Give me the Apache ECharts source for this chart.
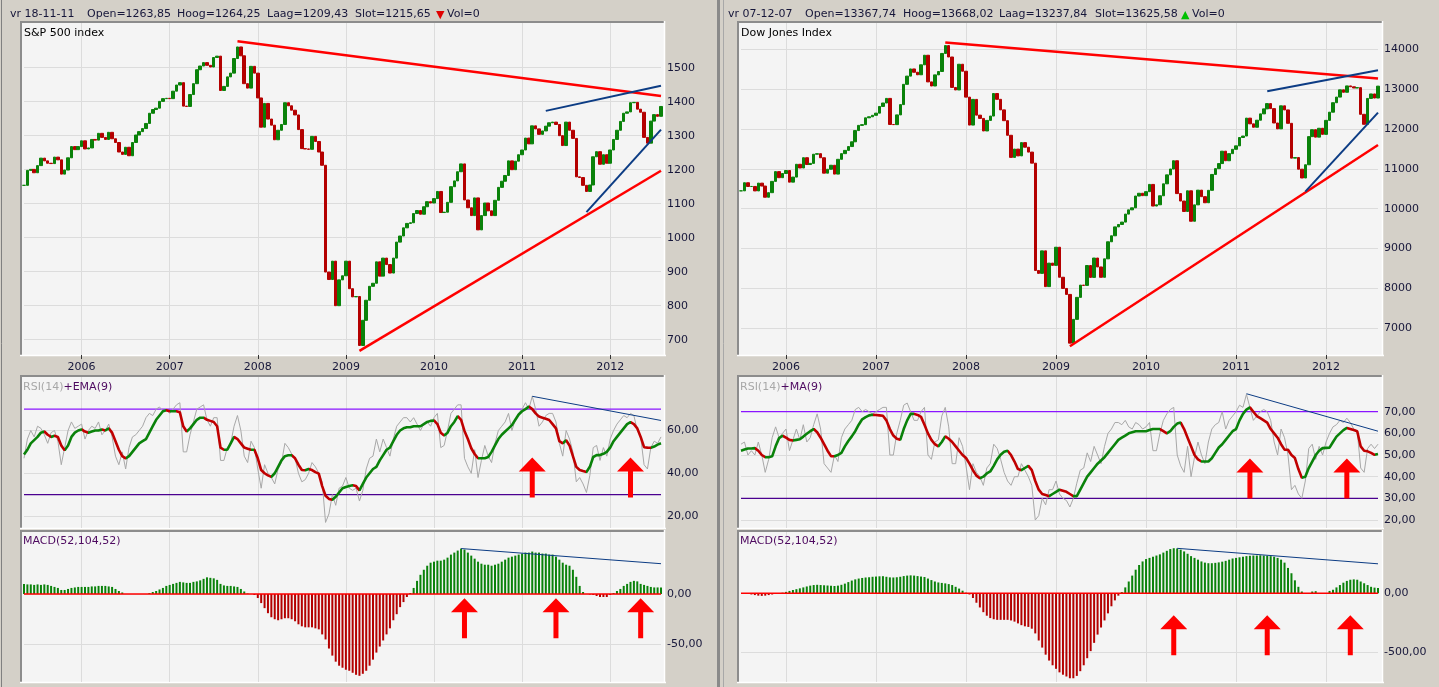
<!DOCTYPE html>
<html>
<head>
<meta charset="utf-8">
<title>S&amp;P 500 / Dow Jones</title>
<script src="https://cdn.jsdelivr.net/npm/echarts@6/dist/echarts.min.js"></script>
<style>
  html, body { margin: 0; padding: 0; background: #d4d0c8; }
  #chart { width: 1439px; height: 687px; }
</style>
</head>
<body>
<div id="chart"></div>
<script>
// S&P 500, biweekly closes from 2005-05-13
const spClose = [
  1154, 1198, 1201, 1191, 1212, 1234, 1226, 1219, 1218, 1237, 1229, 1187, 1199, 1235, 1268, 1259, 1268,
  1285, 1261, 1264, 1289, 1287, 1307, 1295, 1289, 1310, 1291, 1280, 1252, 1245, 1266, 1241, 1280, 1302, 1312, 1321, 1336, 1366, 1377, 1381, 1401, 1409, 1410,
  1409, 1431, 1449, 1456, 1387, 1386, 1421, 1453, 1494, 1505, 1515, 1507, 1502, 1530, 1534, 1433, 1445, 1473, 1484, 1527, 1561, 1535, 1453, 1440, 1504, 1484,
  1411, 1325, 1395, 1349, 1331, 1288, 1316, 1333, 1397, 1388, 1375, 1361, 1318, 1262, 1261, 1260, 1298, 1283, 1252, 1213, 899, 877, 931, 800, 876, 888,
  931, 850, 826, 827, 683, 757, 816, 857, 866, 929, 887, 940, 921, 896, 940, 987, 1005, 1029, 1042, 1044, 1071, 1080, 1069, 1091, 1106, 1102,
  1115, 1136, 1074, 1075, 1104, 1150, 1167, 1194, 1217, 1111, 1088, 1065, 1117, 1023, 1065, 1102, 1079, 1065, 1110, 1148, 1166, 1183, 1226, 1200, 1225, 1244, 1258,
  1293, 1276, 1329, 1320, 1304, 1314, 1328, 1338, 1340, 1333, 1300, 1271, 1340, 1316, 1292, 1179, 1177, 1154, 1136, 1155, 1238, 1253, 1216, 1244, 1219, 1258,
  1289, 1316, 1342, 1366, 1370, 1397, 1398, 1378, 1369, 1295, 1278, 1343, 1362, 1357, 1386
];
const spRsi = [
  47, 56, 60, 57, 62, 61, 58, 54, 59, 60, 55, 44, 52, 60, 64, 61, 62,
  63, 56, 60, 62, 61, 64, 58, 60, 63, 57, 48, 44, 50, 42, 52, 57, 58, 60, 62, 66, 68, 67, 70, 71, 69, 70,
  68, 70, 72, 73, 50, 50, 58, 64, 70, 71, 72, 65, 62, 66, 66, 46, 46, 52, 54, 62, 67, 60, 48, 45, 55, 52,
  42, 33, 44, 40, 38, 35, 42, 45, 54, 52, 49, 47, 40, 36, 37, 40, 45, 43, 40, 36, 17, 21, 30, 25, 33, 34,
  38, 33, 32, 33, 27, 32, 42, 47, 48, 56, 50, 56, 52, 48, 56, 62, 64, 66, 66, 64, 66, 63, 60, 63, 64, 62,
  66, 68, 52, 53, 60, 68, 70, 72, 72, 47, 43, 40, 51, 38, 46, 53, 48, 45, 54, 60, 62, 64, 68, 60, 65, 68, 70,
  73, 70, 76, 70, 62, 64, 67, 68, 68, 64, 54, 48, 60, 56, 50, 36, 38, 35, 31, 39, 52, 53, 46, 52, 48, 56,
  60, 63, 65, 67, 66, 68, 67, 60, 57, 44, 42, 52, 55, 54, 57
];
const spRsiEma = [
  48.8, 51, 54, 55.5, 57, 59, 59.5, 58, 57, 57.5, 57, 53, 50.7, 53, 57, 59, 60,
  60.5, 59.5, 59, 59.5, 60, 60, 60.5, 60, 61, 59, 55, 51, 48, 47, 48, 50, 52, 54, 55, 56, 59, 62, 65, 67, 69, 69.5,
  69, 69, 69, 68.5, 62, 59.5, 61, 63, 65, 66, 66, 65, 64.5, 64, 62, 52, 51, 51, 54, 57, 56, 54, 52, 51.5, 51, 51,
  47, 41.5, 40, 39, 38.3, 40, 43, 46, 48, 48.4, 48.4, 47, 44, 41.5, 41.4, 42, 41.5, 40.5, 39.8, 34, 29.5, 28, 27.6, 29, 31, 33,
  33.6, 34, 34.4, 34, 32, 35, 38, 40, 42, 43, 46, 48.5, 51, 52, 55, 58, 60, 61, 61.5, 61.5, 62, 62, 62, 63, 64, 64.5,
  64.7, 63, 59, 57.7, 59, 62, 64, 66.7, 65, 59.8, 56, 51.7, 49, 47, 47, 47, 47.6, 50, 53, 56, 58, 59.5, 61, 62.5, 65, 67.5, 69,
  70, 71.2, 70, 68, 66.5, 66, 65.5, 64.9, 63, 61, 55, 54, 55.4, 53, 48, 43, 41.5, 41, 40.6, 43, 47.6, 48.5, 48.5, 49.1, 50, 52,
  55, 57, 59, 61, 63, 63.9, 63, 61, 57, 52.2, 52, 51.9, 52.5, 53.4, 54
];
const spMacd = [
  10, 9.5, 9.5, 9, 9.5, 9, 9.5, 9, 8, 7, 6, 4, 4, 5, 6, 6.5, 7,
  7, 7, 7, 7.5, 7.5, 8, 8, 8, 7.5, 7, 5, 3, 1.5, 0, 0, 0, 0, 0, 0, 0, 1, 2, 3, 4.5, 6, 8,
  9, 10, 11, 12, 11.5, 11, 11, 12, 12.5, 13.5, 15, 16.5, 16, 15.5, 14, 10, 8.5, 8, 8, 7.5, 7, 5, 2.5, 0.5, 0, -1,
  -4, -9, -14, -19, -23, -25, -26, -25, -24, -24, -25, -27, -30, -32, -33, -33, -33, -34, -35, -40, -45, -54, -61, -67, -71, -73,
  -75, -76, -78, -80, -81, -79, -76, -71, -65, -58, -52, -46, -40, -34, -26, -20, -13, -8, -3, 1, 6, 13, 19, 24, 28, 31,
  32, 33, 33, 34, 36, 39, 41, 43, 45, 44, 41, 38, 35, 32, 30, 29, 29, 28, 29, 30, 32, 34, 36, 37, 38, 39, 40,
  41, 41, 42, 41, 41, 40, 40, 39, 39, 37, 34, 31, 29, 28, 24, 17, 8, 2, 0, -0.5, -1, -2, -3, -3, -3, -1,
  1, 3, 5, 8, 10, 12, 13, 12.5, 10, 9, 8, 7, 6.5, 6.5, 6.5
];

// Dow Jones, biweekly closes from 2005-07-08
const djClose = [
  10449, 10652, 10558, 10559, 10447, 10642, 10569, 10288, 10403, 10686, 10931, 10779, 10884,
  10959, 10667, 10794, 11115, 11022, 11280, 11109, 11138, 11367, 11381, 11279, 10892, 10990, 11091, 10869, 11240, 11382, 11464, 11560, 11679, 11961, 12091, 12109, 12281, 12307, 12344,
  12398, 12566, 12653, 12768, 12114, 12110, 12354, 12612, 13121, 13327, 13507, 13424, 13361, 13611, 13851, 13182, 13079, 13358, 13443, 13896, 14093, 13807, 13043, 12980, 13625, 13450,
  12800, 12099, 12743, 12348, 12266, 11951, 12216, 12325, 12891, 12745, 12480, 12209, 11843, 11288, 11496, 11326, 11659, 11543, 11421, 11143, 8451, 8378, 8943, 8046, 8635, 8579,
  9034, 8281, 8000, 7850, 6627, 7224, 7776, 8083, 8076, 8575, 8277, 8763, 8539, 8280, 8743, 9171, 9321, 9544, 9605, 9665, 9865, 9972, 10023, 10318, 10388, 10328,
  10428, 10610, 10067, 10099, 10325, 10625, 10850, 10997, 11204, 10380, 10193, 9931, 10450, 9686, 10097, 10466, 10303, 10150, 10462, 10860, 11006, 11133, 11444, 11204, 11382, 11491, 11578,
  11787, 11824, 12273, 12130, 12044, 12221, 12380, 12505, 12638, 12512, 12151, 12004, 12582, 12479, 12143, 11269, 11284, 10992, 10771, 11103, 11809, 11983, 11796, 12019, 11866, 12217,
  12422, 12660, 12801, 12983, 12922, 13081, 13060, 13029, 13038, 12369, 12118, 12767, 12880, 12777, 13076
];
const djRsi = [
  55, 56, 50, 52, 50, 56, 50, 42, 48, 58, 63, 58, 60,
  62, 52, 57, 62, 57, 64, 56, 58, 64, 69, 62, 46, 44, 42, 50, 47, 58, 62, 64, 66, 71, 72, 70, 71, 70, 69,
  70, 71, 72, 72, 50, 50, 60, 66, 73, 74, 70, 66, 66, 70, 72, 50, 48, 56, 57, 68, 72, 63, 46, 46, 58, 54,
  45, 34, 46, 42, 40, 36, 44, 46, 55, 53, 48, 42, 38, 36, 40, 40, 46, 43, 40, 36, 20, 22, 30, 27, 34, 34,
  38, 32, 30, 29, 26, 30, 37, 43, 44, 51, 47, 54, 50, 46, 54, 60, 62, 65, 65, 64, 66, 63, 62, 65, 64, 62,
  63, 65, 52, 52, 60, 66, 69, 71, 72, 50, 45, 42, 54, 40, 49, 56, 50, 46, 56, 62, 64, 65, 70, 62, 66, 68, 70,
  73, 72, 78, 72, 66, 68, 70, 71, 70, 66, 56, 50, 62, 58, 50, 34, 36, 32, 30, 38, 53, 55, 48, 54, 50, 56,
  60, 63, 64, 66, 65, 67, 65, 62, 61, 44, 42, 53, 55, 53, 55
];
const djRsiMa = [
  52, 52.5, 53, 53, 53.2, 52, 50, 49, 49, 49.4, 54, 57.8, 58.9,
  58, 57, 56.7, 57, 57.3, 58.5, 59.8, 61, 62, 60.5, 58, 55, 52, 49.5, 49.4, 50, 51, 54, 56.5, 58.6, 61, 64, 66.5, 67.5, 68.3, 68.6,
  68.5, 68.3, 68.1, 66, 62, 59, 57.5, 57, 62, 66, 69, 69, 68.5, 67.6, 64, 60, 57, 55, 54, 56, 58.6, 57.5, 56, 54, 52, 50,
  48.6, 46, 43, 40.5, 39.3, 40, 41.5, 42.4, 45, 48, 50.1, 51.5, 52, 50, 47, 43.5, 43, 44, 45, 43, 38, 34, 32, 31.5, 31, 32,
  33, 34, 33.5, 33, 32, 31, 31, 34, 37, 40, 42, 44, 46, 47.5, 49, 51, 53, 55, 57, 58, 59, 60, 60.5, 61, 61, 61,
  61, 61.5, 62, 62, 62, 61, 60, 61, 63, 64.5, 65, 62, 58, 54, 50, 48, 47, 47, 47, 48.5, 51, 53.5, 55, 57, 59, 61, 62,
  66, 69, 71, 72, 70, 68, 67, 66, 65, 62, 60, 58, 55, 52.5, 52.4, 50, 48.6, 43.5, 39.5, 40, 44, 47, 50, 52, 53.2, 53.3,
  53.4, 56, 58.5, 60, 61.5, 62.5, 62, 61.5, 61, 54, 52, 51.7, 51, 50.1, 50.5
];
const djMacd = [
  0, -2, -5, -10, -15, -20, -22, -20, -15, -10, -5, 0, 5,
  12, 20, 28, 35, 42, 50, 58, 65, 70, 72, 70, 68, 66, 64, 62, 65, 72, 82, 95, 108, 118, 125, 130, 134, 136, 140,
  142, 144, 145, 140, 135, 134, 136, 140, 146, 150, 152, 150, 146, 142, 138, 125, 112, 100, 92, 88, 84, 78, 70, 55, 40, 22,
  5, -10, -40, -80, -120, -160, -190, -210, -220, -225, -225, -225, -225, -230, -240, -255, -270, -280, -285, -300, -340, -400, -460, -520, -570, -610,
  -640, -670, -690, -705, -720, -720, -700, -660, -610, -550, -490, -420, -350, -290, -230, -170, -110, -60, -20, 10, 50, 100, 150, 200, 240, 270,
  290, 300, 310, 320, 330, 345, 360, 375, 382, 380, 370, 355, 335, 315, 300, 285, 270, 260, 255, 255, 258, 262, 268, 275, 285, 295, 300,
  305, 310, 315, 318, 320, 320, 322, 320, 318, 315, 310, 300, 285, 260, 215, 170, 110, 55, 15, 0, 0, 15, 18, 0, 0, 0,
  20, 30, 50, 70, 90, 105, 115, 118, 115, 100, 85, 70, 55, 48, 45
];

// trend lines and arrows: [week, value]
const spTrendTop = [['2007-10-12', 1578], ['2012-07-27', 1417]];
const spTrendBase = [['2009-02-27', 667], ['2012-07-27', 1197]];
const spChannelLow = [['2011-09-23', 1075], ['2012-07-27', 1318]];
const spChannelHigh = [['2011-04-08', 1373], ['2012-07-27', 1447]];
const spRsiTrend = [['2011-02-11', 76], ['2012-07-27', 64.7]];
const spMacdTrend = [['2010-04-23', 45], ['2012-07-27', 30]];
const spRsiArrows = [['2011-02-11', 38], ['2012-03-23', 38]];
const spMacdArrows = [['2010-05-07', -24], ['2011-05-20', -24], ['2012-05-04', -24]];

const djTrendTop = [['2007-10-12', 14170], ['2012-07-27', 13267]];
const djTrendBase = [['2009-02-27', 6550], ['2012-07-27', 11600]];
const djChannelLow = [['2011-10-07', 10430], ['2012-07-27', 12410]];
const djChannelHigh = [['2011-05-06', 12950], ['2012-07-27', 13475]];
const djRsiTrend = [['2011-02-11', 78.3], ['2012-07-27', 61]];
const djMacdTrend = [['2010-05-07', 381], ['2012-07-27', 250]];
const djRsiArrows = [['2011-02-25', 39.2], ['2012-03-23', 39.2]];
const djMacdArrows = [['2010-04-23', -356], ['2011-05-06', -356], ['2012-04-06', -356]];

const spHeader = ['vr 18-11-11', 'Open=1263,85', 'Hoog=1264,25', 'Laag=1209,43', 'Slot=1215,65', 'Vol=0'];
const djHeader = ['vr 07-12-07', 'Open=13367,74', 'Hoog=13668,02', 'Laag=13237,84', 'Slot=13625,58', 'Vol=0'];

function biweekly(start, count) {
  const t0 = Date.parse(start + 'T00:00:00Z');
  const out = [];
  for (let i = 0; i < count; i++) {
    out.push(new Date(t0 + i * 14 * 86400000).toISOString().slice(0, 10));
  }
  return out;
}
const spWeeks = biweekly('2005-05-13', spClose.length);
const djWeeks = biweekly('2005-07-08', djClose.length);

const GREEN = '#0a820a';
const RED = '#b40000';
const TEXT = '#16163a';
const GRID = '#dcdcdc';
const FONT = 'DejaVu Sans';
const ARROW = 'path://M13.5,0 L27,14 L16,14 L16,40 L11,40 L11,14 L0,14 Z';

// week closest to 1 January
function isYearStart(value) {
  const m = +value.slice(5, 7), d = +value.slice(8, 10);
  return (m === 1 && d <= 7) || (m === 12 && d >= 25);
}
function yearOf(value) {
  const y = +value.slice(0, 4);
  return String(+value.slice(5, 7) === 12 ? y + 1 : y);
}
const comma = v => v.toFixed(2).replace('.', ',');

const panels = [
  {
    weeks: spWeeks, close: spClose, rsi: spRsi, avg: spRsiEma, macd: spMacd,
    left: 24, width: 637,
    axes: [
      { top: 67.7, height: 272, min: 700, max: 1500, step: 100, fmt: v => String(v) },
      { top: 430.5, height: 85.5, min: 20, max: 60, step: 20, fmt: comma },
      { top: 594, height: 50.5, min: -50, max: 0, step: 50, fmt: comma }
    ],
    trends: [
      [spTrendTop, '#ff0000', 2.5], [spTrendBase, '#ff0000', 2.5],
      [spChannelLow, '#0c3c84', 2], [spChannelHigh, '#0c3c84', 2]
    ],
    rsiTrend: spRsiTrend, macdTrend: spMacdTrend,
    rsiArrows: spRsiArrows, macdArrows: spMacdArrows
  },
  {
    weeks: djWeeks, close: djClose, rsi: djRsi, avg: djRsiMa, macd: djMacd,
    left: 741, width: 637,
    axes: [
      { top: 49.3, height: 279, min: 7000, max: 14000, step: 1000, fmt: v => String(v) },
      { top: 411.7, height: 108.3, min: 20, max: 70, step: 10, fmt: comma },
      { top: 593.3, height: 59, min: -500, max: 0, step: 500, fmt: comma }
    ],
    trends: [
      [djTrendTop, '#ff0000', 2.5], [djTrendBase, '#ff0000', 2.5],
      [djChannelLow, '#0c3c84', 2], [djChannelHigh, '#0c3c84', 2]
    ],
    rsiTrend: djRsiTrend, macdTrend: djMacdTrend,
    rsiArrows: djRsiArrows, macdArrows: djMacdArrows
  }
];

const frameRows = [[23, 332], [377, 151], [532, 150]];
const grids = [], xAxes = [], yAxes = [], series = [], visualMaps = [];

panels.forEach(p => {
  const g0 = grids.length;
  for (let k = 0; k < 3; k++) {
    // frame grid: vertical year lines (and year labels under the price pane)
    const fi = grids.length;
    grids.push({ left: p.left, width: p.width, top: frameRows[k][0], height: frameRows[k][1] });
    xAxes.push({
      gridIndex: fi, type: 'category', data: p.weeks, boundaryGap: false,
      axisLine: { show: false },
      axisTick: { show: k === 0, interval: (i, v) => isYearStart(v), length: 4, lineStyle: { color: '#333' } },
      axisLabel: {
        show: k === 0, interval: (i, v) => isYearStart(v), formatter: yearOf,
        color: TEXT, fontFamily: FONT, fontSize: 11, margin: 7
      },
      splitLine: { show: true, interval: (i, v) => isYearStart(v), lineStyle: { color: GRID } }
    });
    yAxes.push({ gridIndex: fi, type: 'value', show: false });

    // value grid
    const a = p.axes[k];
    const vi = grids.length;
    grids.push({ left: p.left, width: p.width, top: a.top, height: a.height });
    xAxes.push({ gridIndex: vi, type: 'category', data: p.weeks, boundaryGap: false, show: false });
    yAxes.push({
      gridIndex: vi, type: 'value', position: 'right',
      min: a.min, max: a.max, interval: a.step,
      axisLine: { show: false }, axisTick: { show: false },
      axisLabel: { formatter: a.fmt, color: TEXT, fontFamily: FONT, fontSize: 11, margin: 6 },
      splitLine: { show: true, lineStyle: { color: GRID } }
    });
  }
  const price = g0 + 1, rsiAx = g0 + 3, macdAx = g0 + 5;
  const first = p.weeks[0], last = p.weeks[p.weeks.length - 1];

  series.push({
    type: 'candlestick', xAxisIndex: price, yAxisIndex: price, clip: false, barWidth: 3,
    data: p.close.map((c, i) => {
      const o = i ? p.close[i - 1] : c;
      return [o, c, Math.min(o, c), Math.max(o, c)];
    }),
    itemStyle: { color: GREEN, color0: RED, borderColor: GREEN, borderColor0: RED, borderWidth: 1 }
  });
  p.trends.forEach(([pts, color, w]) => series.push({
    type: 'line', xAxisIndex: price, yAxisIndex: price, clip: false, data: pts,
    showSymbol: false, lineStyle: { color, width: w }, z: 4
  }));

  // RSI pane
  series.push({
    type: 'line', xAxisIndex: rsiAx, yAxisIndex: rsiAx, clip: false, showSymbol: false,
    data: [[first, 70], [last, 70]], lineStyle: { color: '#8a14ff', width: 1.2 }
  });
  series.push({
    type: 'line', xAxisIndex: rsiAx, yAxisIndex: rsiAx, clip: false, showSymbol: false,
    data: [[first, 30], [last, 30]], lineStyle: { color: '#4b0090', width: 1.2 }
  });
  series.push({
    type: 'line', xAxisIndex: rsiAx, yAxisIndex: rsiAx, clip: false, showSymbol: false,
    data: p.rsi, lineStyle: { color: '#a8a8a8', width: 1 }
  });
  const avgIndex = series.length;
  series.push({
    type: 'line', xAxisIndex: rsiAx, yAxisIndex: rsiAx, clip: false, showSymbol: false,
    data: p.avg, lineStyle: { width: 2.6 }, z: 3
  });
  const pieces = [];
  for (let i = 1; i < p.avg.length; i++) {
    pieces.push({ gt: i - 1, lte: i, color: p.avg[i] >= p.avg[i - 1] ? GREEN : '#c00000' });
  }
  visualMaps.push({ type: 'piecewise', show: false, dimension: 0, seriesIndex: avgIndex, pieces, outOfRange: { color: GREEN } });
  series.push({
    type: 'line', xAxisIndex: rsiAx, yAxisIndex: rsiAx, clip: false, showSymbol: false,
    data: p.rsiTrend, lineStyle: { color: '#0c3c84', width: 1 }, z: 4
  });
  series.push({
    type: 'scatter', xAxisIndex: rsiAx, yAxisIndex: rsiAx, clip: false, data: p.rsiArrows,
    symbol: ARROW, symbolSize: [27, 40], itemStyle: { color: '#ff0000', opacity: 1 }, z: 5
  });

  // MACD pane
  series.push({
    type: 'bar', xAxisIndex: macdAx, yAxisIndex: macdAx, clip: false, barWidth: 2,
    data: p.macd.map(v => ({ value: v, itemStyle: { color: v >= 0 ? GREEN : RED } }))
  });
  series.push({
    type: 'line', xAxisIndex: macdAx, yAxisIndex: macdAx, clip: false, showSymbol: false,
    data: [[first, 0], [last, 0]], lineStyle: { color: '#ff0000', width: 1.6 }, z: 4
  });
  series.push({
    type: 'line', xAxisIndex: macdAx, yAxisIndex: macdAx, clip: false, showSymbol: false,
    data: p.macdTrend, lineStyle: { color: '#0c3c84', width: 1 }, z: 4
  });
  series.push({
    type: 'scatter', xAxisIndex: macdAx, yAxisIndex: macdAx, clip: false, data: p.macdArrows,
    symbol: ARROW, symbolSize: [27, 40], itemStyle: { color: '#ff0000', opacity: 1 }, z: 5
  });
});

// panel chrome
function frame(x0, y0, x1, y1) {
  return [
    { type: 'rect', z: -10, shape: { x: x0, y: y0, width: x1 - x0, height: y1 - y0 }, style: { fill: '#f4f4f4' } },
    { type: 'line', z: -9, shape: { x1: x0 - 2, y1: y0 - 1, x2: x1 + 1, y2: y0 - 1 }, style: { stroke: '#8c8c8c', lineWidth: 2 } },
    { type: 'line', z: -9, shape: { x1: x0 - 1, y1: y0 - 2, x2: x0 - 1, y2: y1 + 1 }, style: { stroke: '#8c8c8c', lineWidth: 2 } },
    { type: 'line', z: -9, shape: { x1: x0 - 2, y1: y1 + 0.5, x2: x1 + 2, y2: y1 + 0.5 }, style: { stroke: '#ffffff', lineWidth: 1.5 } },
    { type: 'line', z: -9, shape: { x1: x1 + 0.5, y1: y0 - 2, x2: x1 + 0.5, y2: y1 + 1 }, style: { stroke: '#ffffff', lineWidth: 1.5 } }
  ];
}
function text(str, x, y, fill, extra) {
  return Object.assign({
    type: 'text', z: 10, style: { text: str, x, y, fill: fill || TEXT, font: '11px "' + FONT + '"', verticalAlign: 'middle' }
  }, extra || {});
}
function header(items, xs, arrowChar, arrowColor, arrowX, volX) {
  const out = items.slice(0, 5).map((s, i) => text(s, xs[i], 14));
  out.push(text(arrowChar, arrowX, 15, arrowColor));
  out.push(text(items[5], volX, 14));
  return out;
}

const graphics = [].concat(
  [{ type: 'line', z: -9, shape: { x1: 1.5, y1: 0, x2: 1.5, y2: 687 }, style: { stroke: '#808080', lineWidth: 1 } }],
  [{ type: 'rect', z: -9, shape: { x: 717, y: 0, width: 3, height: 687 }, style: { fill: '#8a8a8a' } }],
  [{ type: 'line', z: -9, shape: { x1: 723.5, y1: 0, x2: 723.5, y2: 687 }, style: { stroke: '#a8a8a8', lineWidth: 1 } }],
  frame(22, 23, 664, 355), frame(22, 377, 664, 528), frame(22, 532, 664, 682),
  frame(739, 23, 1382, 355), frame(739, 377, 1382, 528), frame(739, 532, 1382, 682),
  header(spHeader, [10, 87, 177, 267, 355], '\u25BC', '#e00000', 436, 447),
  header(djHeader, [728, 805, 903, 999, 1095], '\u25B2', '#00c000', 1181, 1192),
  [
    text('S&P 500 index', 24, 33, '#000000'),
    text('Dow Jones Index', 741, 33, '#000000'),
    { type: 'text', z: 10, style: { x: 23, y: 387, verticalAlign: 'middle', font: '11px "' + FONT + '"',
      text: '{a|RSI(14)}{b|+EMA(9)}', rich: { a: { fill: '#a8a8a8', font: '11px "' + FONT + '"' }, b: { fill: '#4e0a60', font: '11px "' + FONT + '"' } } } },
    { type: 'text', z: 10, style: { x: 740, y: 387, verticalAlign: 'middle', font: '11px "' + FONT + '"',
      text: '{a|RSI(14)}{b|+MA(9)}', rich: { a: { fill: '#a8a8a8', font: '11px "' + FONT + '"' }, b: { fill: '#4e0a60', font: '11px "' + FONT + '"' } } } },
    text('MACD(52,104,52)', 23, 541, '#4e0a60'),
    text('MACD(52,104,52)', 740, 541, '#4e0a60')
  ]
);

const chart = echarts.init(document.getElementById('chart'));
chart.setOption({
  backgroundColor: '#d4d0c8',
  animation: false,
  grid: grids,
  xAxis: xAxes,
  yAxis: yAxes,
  visualMap: visualMaps,
  series: series,
  graphic: { elements: graphics }
});
</script>
</body>
</html>
